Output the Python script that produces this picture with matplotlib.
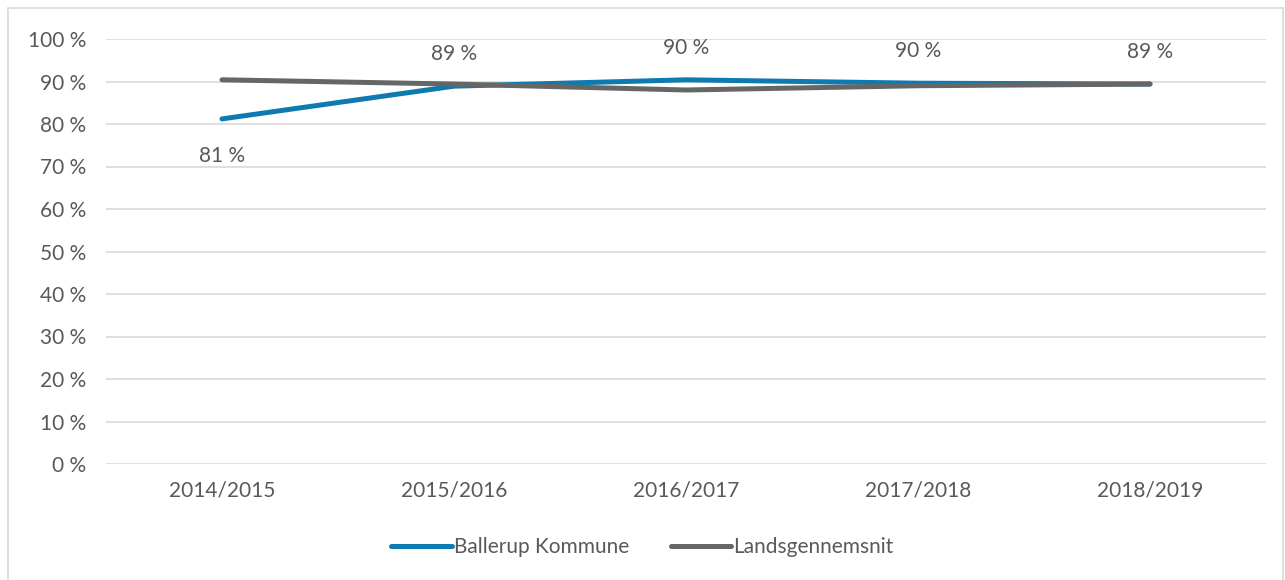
import matplotlib.pyplot as plt
from matplotlib.patches import Rectangle

plt.rcParams['font.family'] = ['Lato', 'DejaVu Sans']

years = ["2014/2015", "2015/2016", "2016/2017", "2017/2018", "2018/2019"]
ballerup = [81.2, 88.9, 90.4, 89.6, 89.4]
lands = [90.4, 89.4, 88.0, 89.0, 89.4]
labels = ["81 %", "89 %", "90 %", "90 %", "89 %"]

text_col = "#595959"
blue = "#0E7AB0"
grey = "#666666"
fs = 15

fig = plt.figure(figsize=(12.85, 5.8), dpi=100)
ax = fig.add_axes([106/1285, 0.2, 1160/1285, 1 - 39/580 - 0.2])

x = range(len(years))
ax.plot(x, ballerup, color=blue, linewidth=3.6, solid_capstyle='round', label="Ballerup Kommune", zorder=3)
ax.plot(x, lands, color=grey, linewidth=3.6, solid_capstyle='round', label="Landsgennemsnit", zorder=3)

for i, (v, lab) in enumerate(zip(ballerup, labels)):
    if i == 0:
        ax.annotate(lab, (i, v), xytext=(0, -27), textcoords='offset points',
                    ha='center', va='center', fontsize=fs, color=text_col)
    else:
        ax.annotate(lab, (i, v), xytext=(0, 23), textcoords='offset points',
                    ha='center', va='center', fontsize=fs, color=text_col)

ax.set_xlim(-0.5, 4.5)
ax.set_ylim(0, 100)
ax.set_yticks(range(0, 101, 10))
ax.set_yticklabels([f"{t} %" for t in range(0, 101, 10)])
ax.set_xticks(list(x))
ax.set_xticklabels(years)
ax.tick_params(length=0, labelsize=fs, labelcolor=text_col)
ax.tick_params(axis='y', pad=14)
ax.tick_params(axis='x', pad=12)
ax.grid(axis='y', color="#D9D9D9", linewidth=1.2)
ax.set_axisbelow(True)
for s in ax.spines.values():
    s.set_visible(False)

leg = fig.legend(loc='center', bbox_to_anchor=(0.5, 1 - 547/580), ncol=2, frameon=False,
                 fontsize=fs, handlelength=2.9, handletextpad=0.1, columnspacing=2.0)
for t in leg.get_texts():
    t.set_color(text_col)

fig.add_artist(Rectangle((8/1285, -0.01), 1275/1285, 1 - 8/580 + 0.01, transform=fig.transFigure,
                         fill=False, edgecolor="#D9D9D9", linewidth=1.2))

fig.savefig("out.png", dpi=100)
